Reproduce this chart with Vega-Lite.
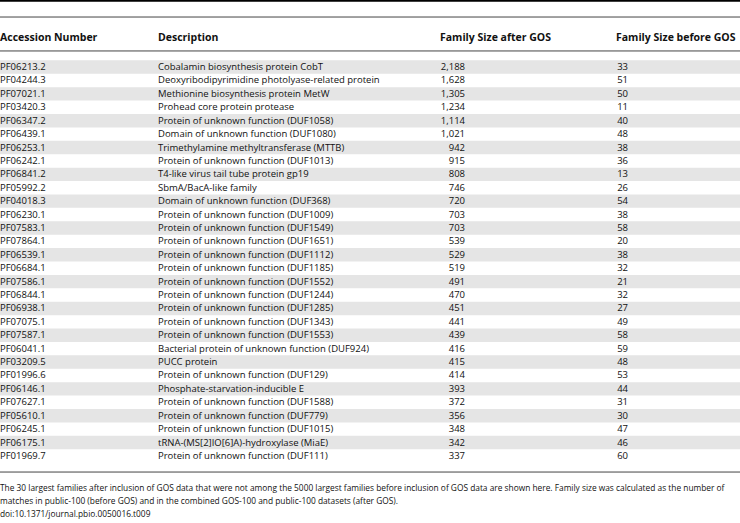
{
  "$schema": "https://vega.github.io/schema/vega-lite/v6.json",
  "width": 740,
  "height": 523,
  "autosize": {"type": "none"},
  "padding": 0,
  "background": "white",
  "config": {"view": {"stroke": null}, "text": {"font": "Open Sans", "fontSize": 9.5, "color": "#111"}},
  "datasets": {
    "rows": [
      {"rank": 1, "acc": "PF06213.2", "desc": "Cobalamin biosynthesis protein CobT", "after": 2188, "before": 33},
      {"rank": 2, "acc": "PF04244.3", "desc": "Deoxyribodipyrimidine photolyase-related protein", "after": 1628, "before": 51},
      {"rank": 3, "acc": "PF07021.1", "desc": "Methionine biosynthesis protein MetW", "after": 1305, "before": 50},
      {"rank": 4, "acc": "PF03420.3", "desc": "Prohead core protein protease", "after": 1234, "before": 11},
      {"rank": 5, "acc": "PF06347.2", "desc": "Protein of unknown function (DUF1058)", "after": 1114, "before": 40},
      {"rank": 6, "acc": "PF06439.1", "desc": "Domain of unknown function (DUF1080)", "after": 1021, "before": 48},
      {"rank": 7, "acc": "PF06253.1", "desc": "Trimethylamine methyltransferase (MTTB)", "after": 942, "before": 38},
      {"rank": 8, "acc": "PF06242.1", "desc": "Protein of unknown function (DUF1013)", "after": 915, "before": 36},
      {"rank": 9, "acc": "PF06841.2", "desc": "T4-like virus tail tube protein gp19", "after": 808, "before": 13},
      {"rank": 10, "acc": "PF05992.2", "desc": "SbmA/BacA-like family", "after": 746, "before": 26},
      {"rank": 11, "acc": "PF04018.3", "desc": "Domain of unknown function (DUF368)", "after": 720, "before": 54},
      {"rank": 12, "acc": "PF06230.1", "desc": "Protein of unknown function (DUF1009)", "after": 703, "before": 38},
      {"rank": 13, "acc": "PF07583.1", "desc": "Protein of unknown function (DUF1549)", "after": 703, "before": 58},
      {"rank": 14, "acc": "PF07864.1", "desc": "Protein of unknown function (DUF1651)", "after": 539, "before": 20},
      {"rank": 15, "acc": "PF06539.1", "desc": "Protein of unknown function (DUF1112)", "after": 529, "before": 38},
      {"rank": 16, "acc": "PF06684.1", "desc": "Protein of unknown function (DUF1185)", "after": 519, "before": 32},
      {"rank": 17, "acc": "PF07586.1", "desc": "Protein of unknown function (DUF1552)", "after": 491, "before": 21},
      {"rank": 18, "acc": "PF06844.1", "desc": "Protein of unknown function (DUF1244)", "after": 470, "before": 32},
      {"rank": 19, "acc": "PF06938.1", "desc": "Protein of unknown function (DUF1285)", "after": 451, "before": 27},
      {"rank": 20, "acc": "PF07075.1", "desc": "Protein of unknown function (DUF1343)", "after": 441, "before": 49},
      {"rank": 21, "acc": "PF07587.1", "desc": "Protein of unknown function (DUF1553)", "after": 439, "before": 58},
      {"rank": 22, "acc": "PF06041.1", "desc": "Bacterial protein of unknown function (DUF924)", "after": 416, "before": 59},
      {"rank": 23, "acc": "PF03209.5", "desc": "PUCC protein", "after": 415, "before": 48},
      {"rank": 24, "acc": "PF01996.6", "desc": "Protein of unknown function (DUF129)", "after": 414, "before": 53},
      {"rank": 25, "acc": "PF06146.1", "desc": "Phosphate-starvation-inducible E", "after": 393, "before": 44},
      {"rank": 26, "acc": "PF07627.1", "desc": "Protein of unknown function (DUF1588)", "after": 372, "before": 31},
      {"rank": 27, "acc": "PF05610.1", "desc": "Protein of unknown function (DUF779)", "after": 356, "before": 30},
      {"rank": 28, "acc": "PF06245.1", "desc": "Protein of unknown function (DUF1015)", "after": 348, "before": 47},
      {"rank": 29, "acc": "PF06175.1", "desc": "tRNA-(MS[2]IO[6]A)-hydroxylase (MiaE)", "after": 342, "before": 46},
      {"rank": 30, "acc": "PF01969.7", "desc": "Protein of unknown function (DUF111)", "after": 337, "before": 60}
    ],
    "caption": [
      {"line": 32.4, "text": "The 30 largest families after inclusion of GOS data that were not among the 5000 largest families before inclusion of GOS data are shown here. Family size was calculated as the number of"},
      {"line": 33.37, "text": "matches in public-100 (before GOS) and in the combined GOS-100 and public-100 datasets (after GOS)."},
      {"line": 34.34, "text": "doi:10.1371/journal.pbio.0050016.t009"}
    ],
    "header": [
      {"h": "Accession Number", "pos": 0, "yy": -1.17},
      {"h": "Description", "pos": 158, "yy": -1.17},
      {"h": "Family Size after GOS", "pos": 440, "yy": -1.17},
      {"h": "Family Size before GOS", "pos": 616, "yy": -1.17}
    ]
  },
  "data": {"name": "rows"},
  "layer": [
    {
      "transform": [
        {"filter": "datum.rank % 2 == 1"},
        {"calculate": "datum.rank - 0.5", "as": "lo"},
        {"calculate": "datum.rank + 0.5", "as": "hi"}
      ],
      "mark": {"type": "rect", "color": "#e5e5e5"},
      "encoding": {
        "y": {"field": "lo", "type": "quantitative", "scale": {"domain": [-4, 35], "reverse": true, "nice": false, "zero": false}, "axis": null},
        "y2": {"field": "hi"},
        "x": {"datum": 0, "type": "quantitative", "scale": {"domain": [0, 740], "nice": false, "zero": false}, "axis": null},
        "x2": {"datum": 740}
      }
    },
    {
      "mark": {"type": "text", "align": "left", "baseline": "middle"},
      "encoding": {"x": {"datum": 0, "type": "quantitative"}, "y": {"field": "rank", "type": "quantitative"}, "text": {"field": "acc"}}
    },
    {
      "mark": {"type": "text", "align": "left", "baseline": "middle"},
      "encoding": {"x": {"datum": 158, "type": "quantitative"}, "y": {"field": "rank", "type": "quantitative"}, "text": {"field": "desc"}}
    },
    {
      "mark": {"type": "text", "align": "right", "baseline": "middle"},
      "encoding": {"x": {"datum": 465, "type": "quantitative"}, "y": {"field": "rank", "type": "quantitative"}, "text": {"field": "after", "format": ","}}
    },
    {
      "mark": {"type": "text", "align": "right", "baseline": "middle"},
      "encoding": {"x": {"datum": 628, "type": "quantitative"}, "y": {"field": "rank", "type": "quantitative"}, "text": {"field": "before", "format": ","}}
    },
    {
      "data": {"name": "header"},
      "mark": {"type": "text", "align": "left", "baseline": "middle", "fontWeight": "bold", "fontSize": 10.5},
      "encoding": {"x": {"field": "pos", "type": "quantitative"}, "y": {"field": "yy", "type": "quantitative"}, "text": {"field": "h"}}
    },
    {
      "data": {"values": [{"yy": -3.95}]},
      "mark": {"type": "rule", "color": "#000", "strokeWidth": 2},
      "encoding": {"y": {"field": "yy", "type": "quantitative"}, "x": {"datum": 0, "type": "quantitative"}, "x2": {"datum": 740}}
    },
    {
      "data": {"values": [{"yy": -2.73}, {"yy": -0.2}, {"yy": 31.2}]},
      "mark": {"type": "rule", "color": "#444", "strokeWidth": 1},
      "encoding": {"y": {"field": "yy", "type": "quantitative"}, "x": {"datum": 0, "type": "quantitative"}, "x2": {"datum": 740}}
    },
    {
      "data": {"name": "caption"},
      "mark": {"type": "text", "align": "left", "baseline": "middle", "fontSize": 8.35},
      "encoding": {"x": {"datum": 0, "type": "quantitative"}, "y": {"field": "line", "type": "quantitative"}, "text": {"field": "text"}}
    }
  ]
}
